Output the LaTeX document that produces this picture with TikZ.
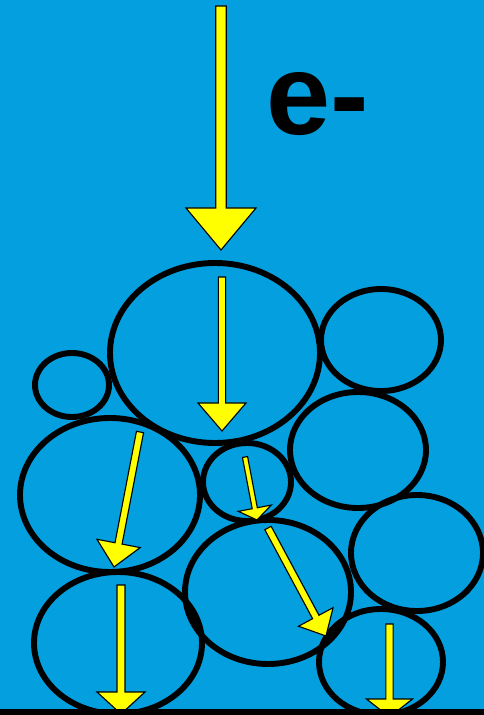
\documentclass[tikz,border=0pt]{standalone}
\usepackage{fontspec}
\usepackage{xcolor}
\usetikzlibrary{calc}
\newfontfamily\labelfont{Liberation Sans}
\definecolor{waterblue}{RGB}{3,159,223}
\definecolor{flowyellow}{RGB}{255,255,0}

% block arrow: start, tip, half shaft, half head, head length
\newcommand{\flowarrow}[5]{%
    \coordinate (hb) at ($(#2)!#5!(#1)$);
    \filldraw[flow] ($(#1)!#3!90:(#2)$) -- ($(hb)!#3!90:(#2)$) -- ($(hb)!#4!90:(#2)$)
        -- (#2) -- ($(hb)!#4!-90:(#2)$) -- ($(hb)!#3!-90:(#2)$) -- ($(#1)!#3!-90:(#2)$) -- cycle;
}

\begin{document}
\begin{tikzpicture}[x=0.025cm, y=-0.025cm,
    grain/.style={draw=black, line width=4.2pt},
    flow/.style={fill=flowyellow, draw=black, line width=0.8pt, line join=miter},
]
    \useasboundingbox (0,0) rectangle (484,715);
    \fill[waterblue] (0,0) rectangle (484,715);
    % grains
    \draw[grain] (215,353) ellipse [x radius=105, y radius=90];
    \draw[grain] (381,340) ellipse [x radius=60, y radius=51];
    \draw[grain] (72,385) ellipse [x radius=37, y radius=32];
    \draw[grain] (110,495) ellipse [x radius=90, y radius=77];
    \draw[grain] (247,482) ellipse [x radius=44, y radius=39];
    \draw[grain] (358,450) ellipse [x radius=68, y radius=58];
    \draw[grain] (417,553) ellipse [x radius=66, y radius=58];
    \draw[grain] (268,592) ellipse [x radius=83, y radius=72];
    \draw[grain] (118,643) ellipse [x radius=84, y radius=71];
    \draw[grain] (381,662) ellipse [x radius=62, y radius=53];
    % electron path
    \coordinate (in) at (221,6);      \coordinate (p1) at (221,250);
    \coordinate (s2) at (222,277);    \coordinate (p2) at (222,431);
    \coordinate (s3) at (140,432);    \coordinate (p3) at (114,567);
    \coordinate (s4) at (245,457);    \coordinate (p4) at (257,520);
    \coordinate (s5) at (268,528);    \coordinate (p5) at (326,636);
    \coordinate (s6) at (121,585);    \coordinate (p6) at (121,714);
    \coordinate (s7) at (389.5,624);  \coordinate (p7) at (389.5,717);
    \flowarrow{in}{p1}{0.13cm}{0.875cm}{1.05cm}
    \flowarrow{s2}{p2}{0.09cm}{0.6cm}{0.7cm}
    \flowarrow{s3}{p3}{0.09cm}{0.55cm}{0.6cm}
    \flowarrow{s4}{p4}{0.065cm}{0.42cm}{0.3cm}
    \flowarrow{s5}{p5}{0.09cm}{0.49cm}{0.54cm}
    \flowarrow{s6}{p6}{0.1cm}{0.6cm}{0.55cm}
    \flowarrow{s7}{p7}{0.09cm}{0.575cm}{0.45cm}
    \node[anchor=base west, inner sep=0, font=\labelfont\bfseries\fontsize{82}{82}\selectfont] (elec) at (266,135) {e-};
    % electrode
    \fill[black] (0,709) rectangle (484,715);
\end{tikzpicture}
\end{document}
